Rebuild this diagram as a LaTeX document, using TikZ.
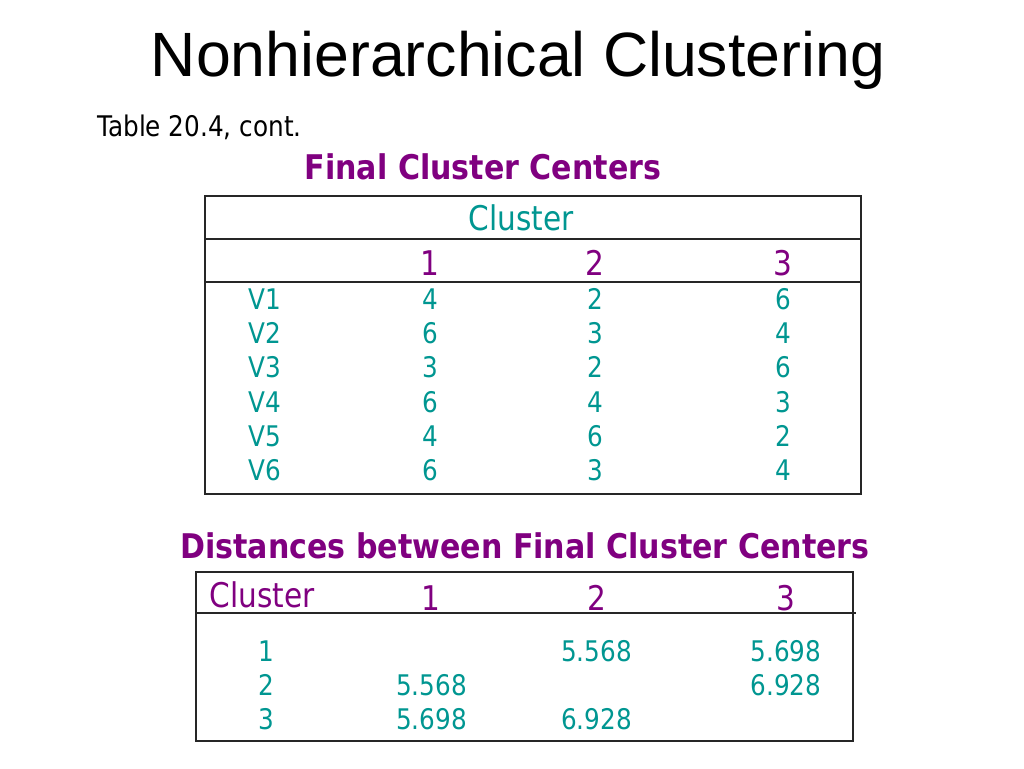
\documentclass[tikz,border=0pt]{standalone}
\usepackage{fontspec}
\setmainfont{DejaVu Sans}[FakeStretch=0.87, BoldFeatures={FakeStretch=0.885}]
\newfontfamily\arialfont{Liberation Sans}
\usetikzlibrary{positioning}
\definecolor{tealtxt}{RGB}{0,150,145}
\definecolor{purpletxt}{RGB}{128,0,128}
\newcommand{\rowsz}{\fontsize{28.4}{34}\selectfont}
\newcommand{\headsz}{\fontsize{34}{40}\selectfont}

\begin{document}
\begin{tikzpicture}[x=1pt, y=-1pt]

    % TikZ styles for the slide %%%%%%%%%%%%%%%%%%%%%%%%%%%%%%%%%%%%%%%%%%%%%%%%%%%%%%
    \tikzstyle{frame} = [draw=black!85, line width=1.5pt]
    \tikzstyle{cell} = [text=tealtxt, font=\rowsz, inner sep=0pt, text height=21pt, text depth=6pt]
    \tikzstyle{colhead} = [text=purpletxt, font=\headsz, inner sep=0pt, anchor=base]
    \tikzstyle{heading} = [text=purpletxt, font=\headsz\bfseries, inner sep=0pt, anchor=base]
    \tikzstyle{wide} = [nodes={minimum width=165pt}]

    \useasboundingbox (0,0) rectangle (1024,768);

    % Titles %%%%%%%%%%%%%%%%%%%%%%%%%%%%%%%%%%%%%%%%%%%%%%%%%%%%%%%%%%%%%%%%%%%%%%%%%%%
    \node[inner sep=0pt, anchor=base, font=\arialfont\fontsize{62.6}{70}\selectfont] (title) at (518,77) {Nonhierarchical Clustering};
    \node[inner sep=0pt, anchor=base west, font=\rowsz] (source) at (97,136) {Table 20.4, cont.};
    \node[heading] (centtitle) at (483,179) {Final Cluster Centers};
    \node[heading] (disttitle) at (525,558) {Distances between Final Cluster Centers};

    % Table 1: final cluster centers %%%%%%%%%%%%%%%%%%%%%%%%%%%%%%%%%%%%%%%%%%%%%%%%%%%%
    \draw[frame] (205,196) rectangle (861,494);
    \draw[frame] (205,239) -- (861,239);
    \draw[frame] (205,282) -- (861,282);

    \matrix (centers) [ampersand replacement=\&, row sep=7pt, column sep=0pt, inner sep=0pt, anchor=north west,
      column 1/.style=wide, column 2/.style=wide, column 3/.style=wide,
      column 4/.style={nodes={minimum width=211pt}}] at (182.5,288) {
      \node[cell] (v1) {V1}; \& \node[cell] (c11) {4}; \& \node[cell] (c12) {2}; \& \node[cell] (c13) {6}; \\
      \node[cell] (v2) {V2}; \& \node[cell] (c21) {6}; \& \node[cell] (c22) {3}; \& \node[cell] (c23) {4}; \\
      \node[cell] (v3) {V3}; \& \node[cell] (c31) {3}; \& \node[cell] (c32) {2}; \& \node[cell] (c33) {6}; \\
      \node[cell] (v4) {V4}; \& \node[cell] (c41) {6}; \& \node[cell] (c42) {4}; \& \node[cell] (c43) {3}; \\
      \node[cell] (v5) {V5}; \& \node[cell] (c51) {4}; \& \node[cell] (c52) {6}; \& \node[cell] (c53) {2}; \\
      \node[cell] (v6) {V6}; \& \node[cell] (c61) {6}; \& \node[cell] (c62) {3}; \& \node[cell] (c63) {4}; \\
    };

    \node[colhead, text=tealtxt] (clustera) at (521,230) {Cluster};
    \node[colhead] (ha1) at (c11.base |- 0,275) {1};
    \node[colhead] (ha2) at (c12.base |- 0,275) {2};
    \node[colhead] (ha3) at (c13.base |- 0,275) {3};

    % Table 2: distances between centers %%%%%%%%%%%%%%%%%%%%%%%%%%%%%%%%%%%%%%%%%%%%%%%%
    \draw[frame] (196,572) rectangle (853,741);
    \draw[frame] (196,613) -- (856,613);

    \matrix (dists) [ampersand replacement=\&, row sep=7pt, column sep=0pt, inner sep=0pt, anchor=north west,
      column 1/.style=wide, column 2/.style=wide, column 3/.style=wide,
      column 4/.style={nodes={minimum width=213pt}}] at (183.5,640) {
      \node[cell] (r1) {1}; \& \& \node[cell] (d12) {5.568}; \& \node[cell] (d13) {5.698}; \\
      \node[cell] (r2) {2}; \& \node[cell] (d21) {5.568}; \& \& \node[cell] (d23) {6.928}; \\
      \node[cell] (r3) {3}; \& \node[cell] (d31) {5.698}; \& \node[cell] (d32) {6.928}; \& \\
    };

    \node[colhead] (clusterb) at (262,607) {Cluster};
    \node[colhead] (hb1) at (d21.base |- 0,610) {1};
    \node[colhead] (hb2) at (d12.base |- 0,610) {2};
    \node[colhead] (hb3) at (d13.base |- 0,610) {3};

\end{tikzpicture}
\end{document}
